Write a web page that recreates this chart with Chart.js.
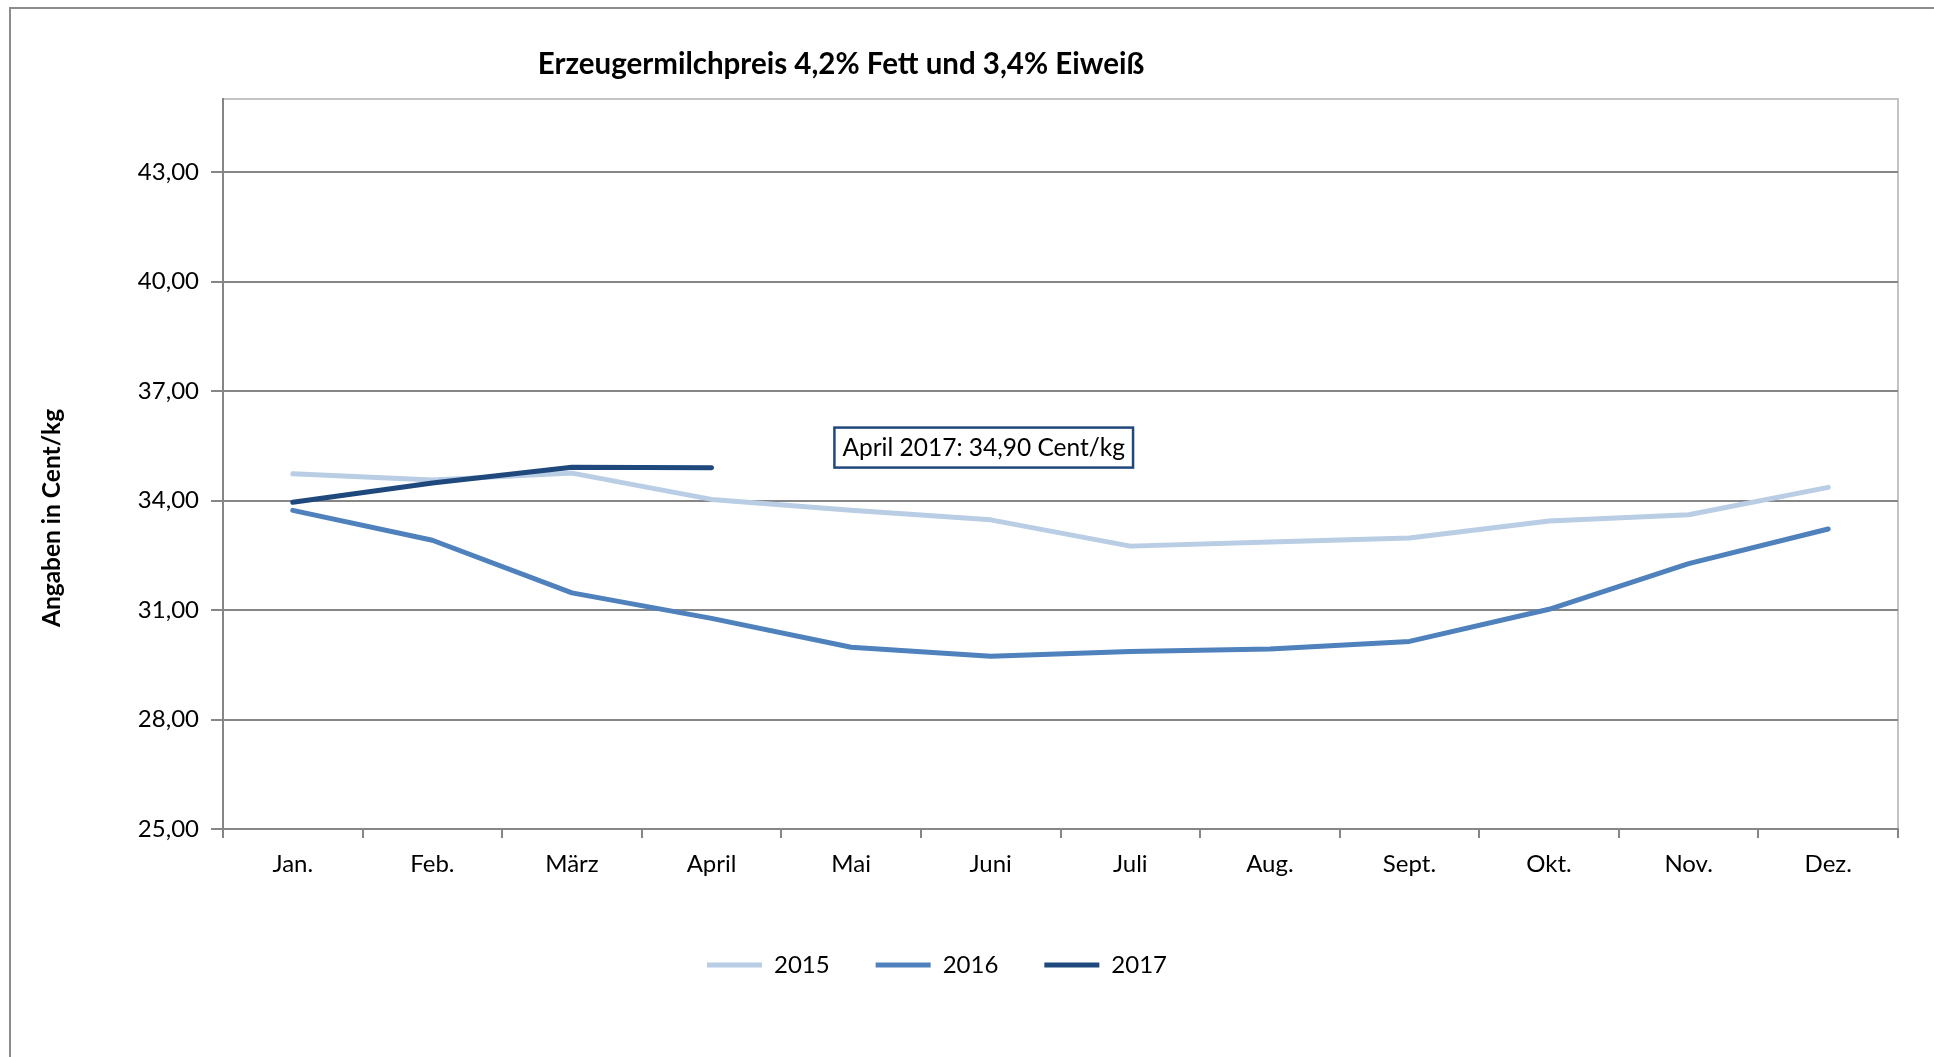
<!DOCTYPE html>
<html lang="de">
<head>
<meta charset="utf-8">
<title>Erzeugermilchpreis</title>
<script src="https://cdn.jsdelivr.net/npm/chart.js@4.4.1/dist/chart.umd.min.js"></script>
<style>
  html, body { margin: 0; padding: 0; background: #fff; overflow: hidden; }
  #wrap { position: relative; width: 1934px; height: 1057px; }
</style>
</head>
<body>
<div id="wrap"><canvas id="milkChart"></canvas></div>
<script>
// --- Data ---
const months = ["Jan.", "Feb.", "März", "April", "Mai", "Juni", "Juli", "Aug.", "Sept.", "Okt.", "Nov.", "Dez."];
const price2015 = [34.73, 34.56, 34.75, 34.03, 33.73, 33.47, 32.75, 32.86, 32.97, 33.44, 33.61, 34.36];
const price2016 = [33.73, 32.91, 31.47, 30.77, 29.98, 29.73, 29.86, 29.93, 30.14, 31.02, 32.27, 33.22];
const price2017 = [33.95, 34.48, 34.91, 34.90, null, null, null, null, null, null, null, null];
const yTicks = [25, 28, 31, 34, 37, 40, 43];

const chartTitle = "Erzeugermilchpreis 4,2% Fett und 3,4% Eiweiß";
const yTitle = "Angaben in Cent/kg";
const noteText = "April 2017: 34,90 Cent/kg";

Chart.defaults.font.family = "Lato";
Chart.defaults.font.size = 24;
Chart.defaults.color = "#000";

// --- Extra drawing: frame, title, axis title, note box ---
const extras = {
  id: "extras",
  afterLayout(chart) {
    // legend sits a bit left of the canvas centre in the original
    const lg = chart.legend;
    if (!lg) return;
    const dx = 937 - (lg.left + lg.right) / 2;
    lg.left += dx;
    lg.right += dx;
    const dy = 953 - (lg.top + lg.options.labels.padding);
    lg.top += dy;
    lg.bottom += dy;
  },
  beforeDraw(chart) {
    const { ctx, chartArea: a } = chart;
    ctx.save();
    ctx.strokeStyle = "#8c8c8c";
    ctx.lineWidth = 2;
    ctx.beginPath();
    ctx.moveTo(10, chart.height);
    ctx.lineTo(10, 8);
    ctx.lineTo(chart.width, 8);
    ctx.stroke();
    ctx.strokeStyle = "#c4c4c4";
    ctx.strokeRect(a.left, a.top, a.right - a.left, a.bottom - a.top);
    ctx.restore();
  },
  afterDraw(chart) {
    const ctx = chart.ctx;
    ctx.save();
    ctx.fillStyle = "#000";
    ctx.textAlign = "center";
    ctx.textBaseline = "middle";
    ctx.font = "bold 29.5px Lato";
    ctx.fillText(chartTitle, 841, 64);
    ctx.translate(52, 518);
    ctx.rotate(-Math.PI / 2);
    ctx.font = "bold 24.5px Lato";
    ctx.fillText(yTitle, 0, 0);
    ctx.restore();

    const x = chart.scales.x.getPixelForValue(4.95);
    const y = chart.scales.y.getPixelForValue(35.45);
    ctx.save();
    ctx.font = "24.5px Lato";
    const w = ctx.measureText(noteText).width + 16;
    const h = 40;
    ctx.fillStyle = "#fff";
    ctx.fillRect(x - w / 2, y - h / 2, w, h);
    ctx.strokeStyle = "#1f497d";
    ctx.lineWidth = 2.5;
    ctx.strokeRect(x - w / 2, y - h / 2, w, h);
    ctx.fillStyle = "#000";
    ctx.textAlign = "center";
    ctx.textBaseline = "middle";
    ctx.fillText(noteText, x, y + 1);
    ctx.restore();
  }
};

function lineSet(label, data, color, order) {
  return {
    label,
    data,
    borderColor: color,
    backgroundColor: color,
    borderWidth: 5,
    borderCapStyle: "round",
    borderJoinStyle: "round",
    pointRadius: 0,
    tension: 0,
    fill: false,
    order
  };
}

// --- Chart ---
new Chart(document.getElementById("milkChart"), {
  type: "line",
  data: {
    labels: months,
    datasets: [
      lineSet("2015", price2015, "#b9cde5", 3),
      lineSet("2016", price2016, "#4f81bd", 2),
      lineSet("2017", price2017, "#1f497d", 1)
    ]
  },
  options: {
    responsive: true,
    maintainAspectRatio: false,
    animation: false,
    layout: { padding: { top: 99, right: 36, bottom: 0, left: 0 } },
    plugins: {
      title: { display: false },
      tooltip: { enabled: false },
      legend: {
        position: "bottom",
        labels: {
          usePointStyle: true,
          pointStyle: "line",
          pointStyleWidth: 55,
          padding: 46,
          sort: (a, b) => a.datasetIndex - b.datasetIndex
        }
      }
    },
    scales: {
      x: {
        offset: true,
        grid: { drawOnChartArea: false, drawTicks: true, tickLength: 9, color: "#868686", lineWidth: 2, offset: true },
        border: { color: "#868686", width: 2 },
        ticks: { padding: 12, maxRotation: 0, autoSkip: false },
        afterFit(scale) {
          const lg = scale.chart.legend;
          scale.height = 1057 - 829 - ((lg && lg.height) || 0);
        }
      },
      y: {
        min: 25,
        max: 45,
        afterBuildTicks(scale) {
          scale.ticks = yTicks.map(v => ({ value: v }));
        },
        grid: { color: "#868686", lineWidth: 2, tickLength: 12 },
        border: { color: "#868686", width: 2 },
        ticks: {
          padding: 12,
          callback: v => v.toFixed(2).replace(".", ",")
        },
        afterFit(scale) {
          scale.width = 223;
        }
      }
    }
  },
  plugins: [extras]
});
</script>
</body>
</html>
